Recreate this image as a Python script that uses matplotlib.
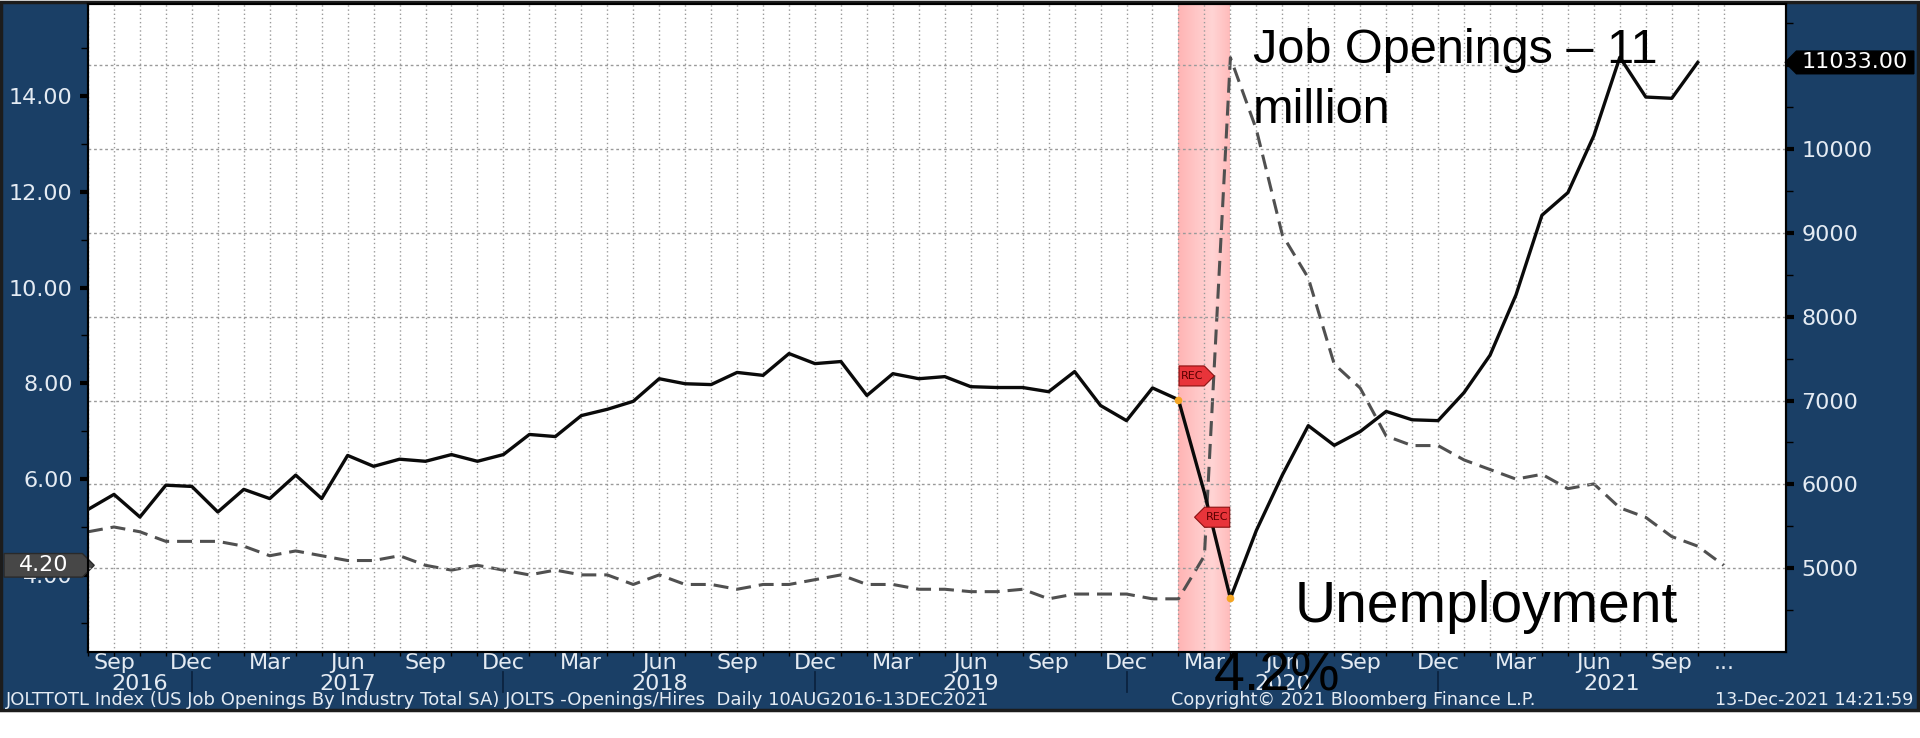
import numpy as np
import pandas as pd
import matplotlib
matplotlib.use("Agg")
import matplotlib.pyplot as plt
from matplotlib.path import Path
from matplotlib.patches import Rectangle
from matplotlib.colors import LinearSegmentedColormap

# monthly data, Aug 2016 .. Nov 2021
months = pd.period_range("2016-08", "2021-11", freq="M")

# US job openings, thousands (Aug 2016 .. Oct 2021)
job_openings = [5700, 5880, 5610, 5990, 5975,
                5670, 5940, 5830, 6110, 5830, 6345, 6215, 6300, 6275, 6355, 6275, 6355,
                6595, 6570, 6820, 6895, 6990, 7260, 7200, 7190, 7335, 7300, 7560, 7440,
                7465, 7060, 7320, 7260, 7285, 7165, 7155, 7155, 7105, 7345, 6940, 6760,
                7150, 7010, 5900, 4640, 5450, 6110, 6700, 6465, 6630, 6870, 6770, 6760,
                7095, 7540, 8260, 9210, 9480, 10160, 11095, 10620, 10605, 11033]

# unemployment rate, % (Aug 2016 .. Nov 2021)
unemployment = [4.9, 5.0, 4.9, 4.7, 4.7,
                4.7, 4.6, 4.4, 4.5, 4.4, 4.3, 4.3, 4.4, 4.2, 4.1, 4.2, 4.1,
                4.0, 4.1, 4.0, 4.0, 3.8, 4.0, 3.8, 3.8, 3.7, 3.8, 3.8, 3.9,
                4.0, 3.8, 3.8, 3.7, 3.7, 3.65, 3.65, 3.7, 3.5, 3.6, 3.6, 3.6,
                3.5, 3.5, 4.4, 14.8, 13.3, 11.1, 10.2, 8.4, 7.9, 6.9, 6.7, 6.7,
                6.4, 6.2, 6.0, 6.1, 5.8, 5.9, 5.4, 5.2, 4.8, 4.6, 4.2]

recession = ("2020-02", "2020-04")

left_ticks = [4, 6, 8, 10, 12, 14]
right_ticks = [5000, 6000, 7000, 8000, 9000, 10000, 11000]

footer_left = "JOLTTOTL Index (US Job Openings By Industry Total SA) JOLTS -Openings/Hires  Daily 10AUG2016-13DEC2021"
footer_mid = "Copyright\u00a9 2021 Bloomberg Finance L.P."
footer_right = "13-Dec-2021 14:21:59"

NAVY = "#1a3f66"
TXT = "#e4ebf3"


def tag_style(direction, px=0.3, py=0.1):
    # pentagon label box (Bloomberg style tag)
    def style(x0, y0, width, height, mutation_size):
        padx = px * mutation_size
        pady = py * mutation_size
        x0 = x0 - padx
        x1 = x0 + width + 2 * padx
        y0 = y0 - pady
        y1 = y0 + height + 2 * pady
        tip = (y1 - y0) / 2
        ym = (y0 + y1) / 2
        if direction == "right":
            verts = [(x0, y0), (x1, y0), (x1 + tip, ym), (x1, y1), (x0, y1), (x0, y0)]
        else:
            verts = [(x0, y0), (x1, y0), (x1, y1), (x0, y1), (x0 - tip, ym), (x0, y0)]
        return Path(verts, closed=True)
    return style


W, H = 1920, 738
fig = plt.figure(figsize=(W / 100, H / 100), dpi=100)
fig.patch.set_facecolor("white")
fig.patches.append(Rectangle((1 / W, 28 / H), (W - 3) / W, (H - 30) / H,
                             transform=fig.transFigure, fc=NAVY, ec="#1c1c1c",
                             lw=2.5, zorder=-1))

ax = fig.add_axes([88 / W, 86 / H, 1698 / W, 648 / H])
ax.set_facecolor("white")
ax2 = ax.twinx()

x = np.arange(len(months))
x_jo = x[:len(job_openings)]

# recession shading
r0 = months.get_loc(pd.Period(recession[0], "M"))
r1 = months.get_loc(pd.Period(recession[1], "M"))
pink = LinearSegmentedColormap.from_list("rec", ["#ffb4b4", "#ffc6c6", "#ffd4d4", "#ffbcbc"])
ax.imshow(np.linspace(0, 1, 64)[None, :], extent=(r0, r1, 2.39, 15.92), aspect="auto",
          cmap=pink, zorder=0.2, interpolation="bilinear")
ax.set_xlim(0, 65.4)
ax.set_ylim(2.39, 15.92)
ax2.set_ylim(4000, 11730)

# lines
ax.plot(x, unemployment, color="#505050", lw=2.2, linestyle=(0, (4.9, 2.6)), zorder=3)
ax2.plot(x_jo, job_openings, color="#0a0a0a", lw=2.4, zorder=4)
ax2.plot([r0, r1], [job_openings[r0], job_openings[r1]], "o", ms=4.5,
         color="#f5a623", zorder=5)

# grid
ax.set_axisbelow(True)
ax.set_xticks(x)
ax.grid(axis="x", color="#9a9a9a", lw=1.0, linestyle=(0, (1, 2)))
ax2.set_axisbelow(True)
ax2.set_yticks(right_ticks)
ax2.grid(axis="y", color="#9a9a9a", lw=1.0, linestyle=(0, (2, 2)))

# x labels
labels = []
for i, p in enumerate(months):
    if i == len(months) - 1:
        labels.append("...")
    elif p.month in (3, 6, 9, 12):
        labels.append(p.strftime("%b"))
    else:
        labels.append("")
ax.set_xticklabels(labels)
ax.tick_params(axis="x", direction="out", length=3, width=1, color="black",
               labelcolor=TXT, labelsize=16, pad=-2.5)

# year labels and separators
xt = ax.get_xaxis_transform()
dec = [i for i, p in enumerate(months) if p.month == 12]
edges = [0] + dec + [ax.get_xlim()[1]]
years = sorted(set(p.year for p in months))
for k, yr in enumerate(years):
    ax.text((edges[k] + edges[k + 1]) / 2, -0.049, str(yr), transform=xt,
            ha="center", va="center", color=TXT, fontsize=16, clip_on=False)
for d in dec:
    ax.plot([d, d], [-0.031, -0.062], transform=xt, color="#0b2340", lw=1.3,
            clip_on=False)

# left axis
ax.set_yticks(left_ticks)
ax.set_yticklabels(["%.2f" % v for v in left_ticks])
ax.set_yticks(np.arange(3, 16, 2), minor=True)
ax.tick_params(axis="y", which="major", direction="out", length=6, width=3,
               color="black", labelcolor=TXT, labelsize=16, pad=5)
ax.tick_params(axis="y", which="minor", direction="out", length=5, width=1, color="black")

# right axis
ax2.set_yticklabels(["" if v == 11000 else str(v) for v in right_ticks])
ax2.set_yticks(np.arange(4500, 11600, 1000), minor=True)
ax2.tick_params(axis="y", which="major", direction="out", length=6, width=3,
                color="black", labelcolor=TXT, labelsize=16, pad=5)
ax2.tick_params(axis="y", which="minor", direction="out", length=5, width=1, color="black")

for a in (ax, ax2):
    for s in a.spines.values():
        s.set_color("black")
        s.set_linewidth(1.5)

# last value tags
ax.annotate("%.2f" % unemployment[-1], xy=(0, unemployment[-1]),
            xycoords=ax.get_yaxis_transform(), xytext=(-20, 0),
            textcoords="offset pixels", ha="right", va="center", color="white",
            fontsize=16, annotation_clip=False, zorder=10,
            bbox=dict(boxstyle=tag_style("right", 0.65, 0.08), fc="#474747", ec="#2a2a2a", lw=1))
ax2.annotate("%.2f" % job_openings[-1], xy=(1, job_openings[-1]),
             xycoords=ax2.get_yaxis_transform(), xytext=(16, 0),
             textcoords="offset pixels", ha="left", va="center", color="white",
             fontsize=16, annotation_clip=False, zorder=10,
             bbox=dict(boxstyle=tag_style("left", 0.25, 0.06), fc="black", ec="black", lw=1))

# recession flags
ax2.annotate("REC", xy=(r0, 0.426), xycoords=ax2.get_xaxis_transform(), xytext=(2, 0),
             textcoords="offset pixels", ha="left", va="center", fontsize=8,
             color="#5a0000", zorder=8,
             bbox=dict(boxstyle=tag_style("right", 0.12, 0.45), fc="#e8343a", ec="#8a1010", lw=0.8))
ax2.annotate("REC", xy=(r1, 0.208), xycoords=ax2.get_xaxis_transform(), xytext=(-2, 0),
             textcoords="offset pixels", ha="right", va="center", fontsize=8,
             color="#5a0000", zorder=8,
             bbox=dict(boxstyle=tag_style("left", 0.12, 0.45), fc="#e8343a", ec="#8a1010", lw=0.8))

# annotations
big = ["Liberation Sans", "DejaVu Sans"]
ax2.text(0.686, 0.963, "Job Openings \u2013 11\nmillion", transform=ax2.transAxes,
         ha="left", va="top", fontsize=35, family=big, linespacing=1.42, zorder=12)
ax2.text(0.7105, 0.046, "Unemployment", transform=ax2.transAxes, ha="left",
         va="baseline", fontsize=41, family=big, zorder=12)
ax2.text(0.663, -0.059, "4.2%", transform=ax2.transAxes, ha="left", va="baseline",
         fontsize=40, family=big, zorder=12, clip_on=False)

# footer
fy = (H - 700) / H
fig.text(6 / W, fy, footer_left, ha="left", va="center", color=TXT, fontsize=13)
fig.text(1171 / W, fy, footer_mid, ha="left", va="center", color=TXT, fontsize=12.7)
fig.text(1913 / W, fy, footer_right, ha="right", va="center", color=TXT, fontsize=12.7)

fig.savefig("out.png", dpi=100, facecolor=fig.get_facecolor())
